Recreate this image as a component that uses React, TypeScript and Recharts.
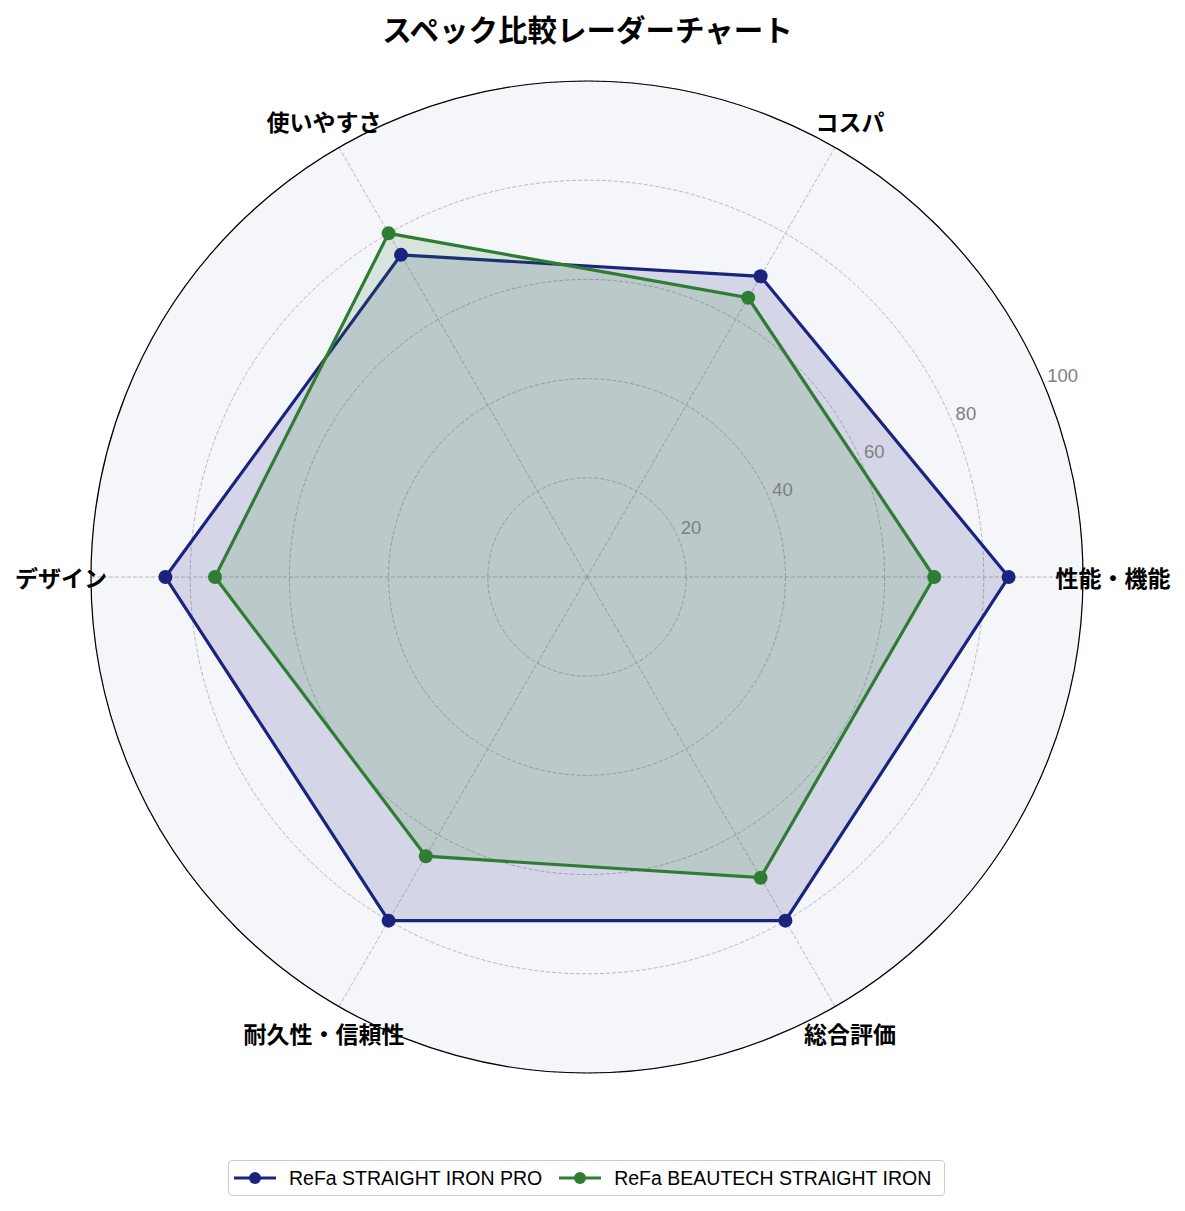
import {
	PolarAngleAxis,
	PolarGrid,
	PolarRadiusAxis,
	Radar,
	RadarChart,
} from "recharts";

const CATEGORIES = ["性能・機能", "コスパ", "使いやすさ", "デザイン", "耐久性・信頼性", "総合評価"];
const PRO_VALUES = [85, 70, 75, 85, 80, 80];
const BEAUTECH_VALUES = [70, 65, 80, 75, 65, 70];
const RADIUS_TICKS = [20, 40, 60, 80, 100];
const SERIES_NAMES = ["ReFa STRAIGHT IRON PRO", "ReFa BEAUTECH STRAIGHT IRON"];
const SERIES_COLORS = ["#1a237e", "#2e7d32"];
const SERIES_KEYS = ["pro", "beautech"];

const W = 1185;
const H = 1211;
const CX = 587;
const CY = 577;
const R = 496;
const LABEL_R = 526;
const STEP = 360 / CATEGORIES.length;
const FONT = "'Noto Sans CJK JP', 'Noto Sans', sans-serif";
const LATIN_FONT = "'Liberation Sans', Arial, sans-serif";

const data = CATEGORIES.map((category, i) => ({
	category,
	pro: PRO_VALUES[i],
	beautech: BEAUTECH_VALUES[i],
}));

// label angle follows the category order (counter-clockwise from 3 o'clock)
function AngleTick(props: any) {
	const { payload, index } = props;
	const a = (index * STEP * Math.PI) / 180;
	return (
		<text
			x={CX + LABEL_R * Math.cos(a)}
			y={CY - LABEL_R * Math.sin(a)}
			textAnchor="middle"
			dominantBaseline="central"
			fontSize={23}
			fontWeight="bold"
			fontFamily={FONT}
			fill="#000"
		>
			{payload.value}
		</text>
	);
}

function RadiusTick(props: any) {
	const { x, y, payload } = props;
	return (
		<text
			x={x + 2}
			y={y - 12}
			textAnchor="start"
			dominantBaseline="central"
			fontSize={18.5}
			fontFamily={LATIN_FONT}
			fill="#808080"
		>
			{payload.value}
		</text>
	);
}

function LegendMarker({ color }: { color: string }) {
	return (
		<svg width={42} height={14} style={{ display: "block", flexShrink: 0 }}>
			<line x1={0} y1={7} x2={42} y2={7} stroke={color} strokeWidth={3} />
			<circle cx={21} cy={7} r={6} fill={color} />
		</svg>
	);
}

export default function App() {
	return (
		<div
			style={{
				position: "absolute",
				left: 0,
				top: 0,
				width: W,
				height: H,
				background: "#fff",
				fontFamily: FONT,
			}}
		>
			<div
				style={{
					position: "absolute",
					left: 0,
					top: 9,
					width: W - 10,
					textAlign: "center",
					fontSize: 29.5,
					fontWeight: "bold",
					lineHeight: "38px",
				}}
			>
				スペック比較レーダーチャート
			</div>
			<div
				style={{
					position: "absolute",
					left: CX - R,
					top: CY - R,
					width: 2 * R,
					height: 2 * R,
					borderRadius: "50%",
					background: "#f5f6fa",
				}}
			/>
			<div style={{ position: "absolute", left: 0, top: 0 }}>
				<RadarChart
					width={W}
					height={H}
					data={data}
					cx={CX}
					cy={CY}
					outerRadius={R}
					startAngle={-STEP}
					endAngle={360 - STEP}
					margin={{ top: 0, right: 0, bottom: 0, left: 0 }}
				>
					<PolarGrid
						gridType="circle"
						stroke="#a8a8a8"
						strokeWidth={0.8}
						strokeDasharray="4 2"
					/>
					<PolarAngleAxis
						dataKey="category"
						axisLineType="circle"
						axisLine={{ stroke: "#000", strokeWidth: 1.2 }}
						tickLine={false}
						tick={AngleTick}
					/>
					{SERIES_KEYS.map((key, i) => (
						<Radar
							key={key}
							name={SERIES_NAMES[i]}
							dataKey={key}
							stroke={SERIES_COLORS[i]}
							strokeWidth={3.2}
							fill={SERIES_COLORS[i]}
							fillOpacity={0.15}
							dot={{ r: 7, fill: SERIES_COLORS[i], stroke: "none", fillOpacity: 1 }}
							isAnimationActive={false}
						/>
					))}
					<PolarRadiusAxis
						angle={22.5}
						domain={[0, 100]}
						ticks={RADIUS_TICKS}
						type="number"
						axisLine={false}
						tick={RadiusTick}
					/>
				</RadarChart>
			</div>
			<div
				style={{
					position: "absolute",
					left: 228,
					top: 1160,
					width: 717,
					height: 36,
					boxSizing: "border-box",
					border: "1px solid #cccccc",
					borderRadius: 4,
					display: "flex",
					alignItems: "center",
					paddingLeft: 5,
					background: "#fff",
					fontFamily: LATIN_FONT,
					whiteSpace: "nowrap",
				}}
			>
				{SERIES_NAMES.map((name, i) => (
					<div
						key={name}
						style={{ display: "flex", alignItems: "center", marginRight: 17, flexShrink: 0 }}
					>
						<LegendMarker color={SERIES_COLORS[i]} />
						<span style={{ marginLeft: 13, fontSize: 19.5, color: "#000" }}>{name}</span>
					</div>
				))}
			</div>
		</div>
	);
}
